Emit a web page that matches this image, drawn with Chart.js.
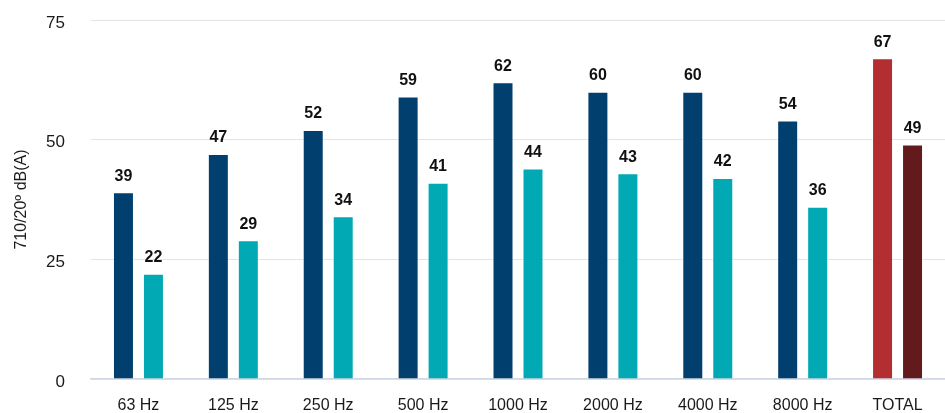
<!DOCTYPE html>
<html>
<head>
<meta charset="utf-8">
<script src="https://cdn.jsdelivr.net/npm/chart.js@4/dist/chart.umd.min.js"></script>
<style>
  html, body { margin: 0; padding: 0; background: #fff; }
  #wrap { width: 945px; height: 413px; position: relative; }
</style>
</head>
<body>
<div id="wrap"><canvas id="chart"></canvas></div>
<script>
const categories = ["63 Hz", "125 Hz", "250 Hz", "500 Hz", "1000 Hz", "2000 Hz", "4000 Hz", "8000 Hz", "TOTAL"];
const seriesA = [39, 47, 52, 59, 62, 60, 60, 54, 67];
const seriesB = [22, 29, 34, 41, 44, 43, 42, 36, 49];
const yTicks = [0, 25, 50, 75];

const colorsA = categories.map((c) => (c === "TOTAL" ? "#b22e31" : "#013f6f"));
const colorsB = categories.map((c) => (c === "TOTAL" ? "#621a1c" : "#00a9b3"));

const FONT = "'Liberation Sans', Arial, sans-serif";

// draw value labels above each bar
const barLabels = {
  id: "barLabels",
  afterDatasetsDraw(chart) {
    const ctx = chart.ctx;
    ctx.save();
    ctx.font = "bold 16px " + FONT;
    ctx.fillStyle = "#111";
    ctx.textAlign = "center";
    ctx.textBaseline = "bottom";
    chart.data.datasets.forEach((ds, i) => {
      chart.getDatasetMeta(i).data.forEach((bar, j) => {
        ctx.fillText(ds.data[j], bar.x, bar.y - 8);
      });
    });
    ctx.restore();
  },
};

const ctx = document.getElementById("chart").getContext("2d");
new Chart(ctx, {
  type: "bar",
  data: {
    labels: categories,
    datasets: [
      {
        data: seriesA,
        backgroundColor: colorsA,
        borderColor: "rgba(255,255,255,0.6)",
        borderWidth: 1,
      },
      {
        data: seriesB,
        backgroundColor: colorsB,
        borderColor: "rgba(255,255,255,0.6)",
        borderWidth: 1,
      },
    ],
  },
  options: {
    responsive: true,
    maintainAspectRatio: false,
    animation: false,
    devicePixelRatio: 1,
    categoryPercentage: 0.632,
    barPercentage: 0.7,
    layout: { padding: 0 },
    plugins: {
      legend: { display: false },
      tooltip: { enabled: false },
    },
    scales: {
      x: {
        grid: { display: false },
        border: { color: "#d0d7e5", width: 1.5 },
        ticks: {
          color: "#1a1a1a",
          padding: 9,
          font: { family: FONT, size: 16 },
        },
        afterFit(scale) {
          scale.height = 34;
        },
      },
      y: {
        min: 0,
        max: 75,
        afterBuildTicks(axis) {
          axis.ticks = yTicks.map((v) => ({ value: v }));
        },
        afterFit(scale) {
          scale.width = 91;
          scale.paddingTop = 20;
          scale.paddingBottom = 0;
        },
        grid: { color: "#e3e3e3", drawTicks: false },
        border: { display: false },
        ticks: {
          color: "#1a1a1a",
          padding: 26,
          labelOffset: 3,
          font: { family: FONT, size: 17 },
        },
        title: {
          display: true,
          text: "710/20º dB(A)",
          color: "#1a1a1a",
          padding: { top: 12, bottom: 0 },
          font: { family: FONT, size: 16 },
        },
      },
    },
  },
  plugins: [barLabels],
});
</script>
</body>
</html>
